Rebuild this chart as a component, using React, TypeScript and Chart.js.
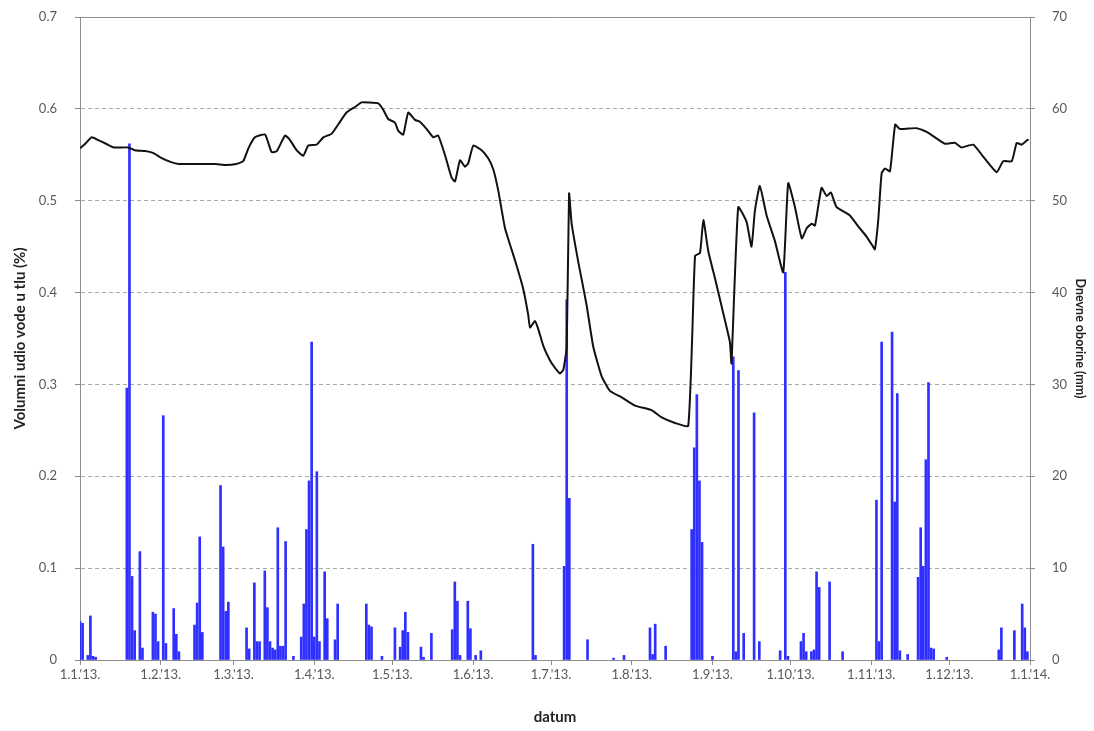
import React, { useEffect, useRef } from 'react';
import { Chart, registerables } from 'chart.js';

Chart.register(...registerables);

// x axis: day of year (0 = 1.1.2013)
const monthStartDays = [0, 31, 59, 90, 120, 151, 181, 212, 243, 273, 304, 334, 365];
const monthLabels = [
  "1.1.'13.", "1.2.'13.", "1.3.'13.", "1.4.'13.", "1.5.'13.", "1.6.'13.",
  "1.7.'13.", "1.8.'13.", "1.9.'13.", "1.10.'13.", "1.11.'13.", "1.12.'13.", "1.1.'14.",
];

// daily precipitation (mm), right axis
const rainDays = [
  0, 1, 3, 4, 5, 6, 18, 19, 20, 21, 23, 24, 28, 29, 30, 32, 33, 36, 37, 38,
  44, 45, 46, 47, 54, 55, 56, 57, 64, 65, 67, 68, 69, 71, 72, 73, 74, 75, 76, 77,
  78, 79, 82, 85, 86, 87, 88, 89, 90, 91, 92, 94, 95, 98, 99, 110, 111, 112, 116, 121,
  123, 124, 125, 126, 131, 132, 135, 143, 144, 145, 146, 149, 150, 152, 154, 174, 175, 186, 187, 188,
  195, 205, 209, 219, 220, 221, 225, 235, 236, 237, 238, 239, 243, 251, 252, 253, 255, 259, 261, 269,
  271, 272, 277, 278, 279, 281, 282, 283, 284, 288, 293, 306, 307, 308, 312, 313, 314, 315, 318, 322,
  323, 324, 325, 326, 327, 328, 333, 353, 354, 359, 362, 363, 364,
];
const rainMm = [
  4.2, 4.0, 0.5, 4.8, 0.4, 0.3, 29.6, 56.2, 9.1, 3.2, 11.8, 1.3, 5.2, 5.0, 2.0, 26.6, 1.8, 5.6, 2.8, 0.9,
  3.8, 6.2, 13.4, 3.0, 19.0, 12.3, 5.3, 6.3, 3.5, 1.2, 8.4, 2.0, 2.0, 9.7, 5.7, 2.0, 1.3, 1.1, 14.4, 1.5,
  1.5, 12.9, 0.4, 2.5, 6.1, 14.2, 19.5, 34.6, 2.5, 20.5, 2.0, 9.6, 4.5, 2.2, 6.1, 6.1, 3.8, 3.6, 0.4, 3.5,
  1.4, 3.2, 5.2, 3.0, 1.4, 0.3, 2.9, 3.3, 8.5, 6.4, 0.5, 6.4, 3.4, 0.5, 1.0, 12.6, 0.5, 10.2, 39.2, 17.6,
  2.2, 0.2, 0.5, 3.5, 0.6, 3.9, 1.5, 14.2, 23.1, 28.9, 19.5, 12.8, 0.4, 33.0, 0.9, 31.5, 2.9, 26.9, 2.0, 1.0,
  42.2, 0.4, 2.0, 2.9, 0.9, 0.9, 1.1, 9.6, 7.9, 8.5, 0.9, 17.4, 2.0, 34.6, 35.7, 17.2, 29.0, 1.0, 0.6, 9.0,
  14.4, 10.2, 21.8, 30.2, 1.3, 1.2, 0.3, 1.1, 3.5, 3.2, 6.1, 3.5, 0.9,
];

// volumetric soil water content, left axis
const moistDays = [
  0, 2, 4.5, 7, 10, 13, 18.5, 21, 25, 28, 31, 35, 38, 45, 52, 56, 60, 62.7, 64.7, 67.2,
  71.1, 73.6, 75.6, 78.8, 80.7, 83.2, 85.8, 87.7, 90.9, 93.5, 96.7, 99.2, 102.4, 105.6, 108.2, 110.8, 114.6, 116.5, 118.4, 121,
  122.3, 124.2, 126.1, 128.7, 130.6, 133.2, 135.7, 137.6, 140.2, 142.8, 144.1, 146, 147.9, 149.2, 151.1, 154.3, 156.9, 158.8, 160.7, 163.3,
  165.8, 167.8, 170.3, 172.2, 172.9, 174.8, 176.1, 178, 180.6, 182.5, 184.4, 185.7, 187, 187.9, 188.9, 191.4, 194.6, 197.2, 200.4, 203.6,
  208.1, 213.2, 219.6, 223.5, 228.6, 233.7, 236.3, 238.2, 239.5, 241.4, 244, 247.1, 249.7, 250.3, 252.9, 256.1, 258, 259.3, 261.2, 263.8,
  267, 270.2, 272.1, 274.7, 277.3, 279.2, 281.1, 282.4, 284.9, 286.9, 288.5, 290.7, 295.8, 299, 302.2, 304.7, 305.4, 306.7, 308, 309.3,
  311.2, 313.2, 315, 321.4, 325.3, 328.5, 332.3, 336.1, 338.7, 343.2, 347, 352.2, 354.7, 358, 359.9, 361.8, 364.4,
];
const moistVals = [
  0.557, 0.562, 0.569, 0.566, 0.562, 0.558, 0.558, 0.555, 0.554, 0.552, 0.547, 0.542, 0.54, 0.54, 0.54, 0.539, 0.54, 0.543, 0.557, 0.569,
  0.572, 0.553, 0.554, 0.571, 0.566, 0.555, 0.549, 0.56, 0.561, 0.569, 0.573, 0.583, 0.596, 0.602, 0.607, 0.607, 0.606, 0.599, 0.589, 0.585,
  0.576, 0.572, 0.596, 0.588, 0.586, 0.578, 0.569, 0.571, 0.55, 0.525, 0.521, 0.544, 0.537, 0.541, 0.56, 0.555, 0.546, 0.534, 0.511, 0.47,
  0.447, 0.429, 0.404, 0.376, 0.362, 0.369, 0.36, 0.342, 0.326, 0.318, 0.312, 0.316, 0.341, 0.508, 0.475, 0.434, 0.387, 0.341, 0.309, 0.293,
  0.286, 0.277, 0.272, 0.264, 0.258, 0.255, 0.44, 0.443, 0.479, 0.445, 0.415, 0.378, 0.346, 0.323, 0.493, 0.477, 0.45, 0.489, 0.516, 0.484,
  0.456, 0.422, 0.519, 0.493, 0.459, 0.47, 0.475, 0.473, 0.514, 0.505, 0.509, 0.493, 0.484, 0.472, 0.461, 0.45, 0.447, 0.479, 0.53, 0.535,
  0.532, 0.583, 0.578, 0.579, 0.575, 0.569, 0.562, 0.563, 0.558, 0.561, 0.548, 0.531, 0.543, 0.543, 0.563, 0.561, 0.567,
];

const leftTitle = 'Volumni udio vode u tlu (%)';
const rightTitle = 'Dnevne oborine (mm)';
const xTitle = 'datum';

const AXIS_COLOR = '#8c8c8c';
const GRID_COLOR = '#a8a8a8';
const TICK_FONT = { family: 'Lato', size: 13 };
const TICK_COLOR = '#595959';

const framePlugin = {
  id: 'frame',
  afterDatasetsDraw(chart: any) {
    const { ctx, chartArea } = chart;
    ctx.save();
    ctx.strokeStyle = AXIS_COLOR;
    ctx.lineWidth = 1;
    ctx.setLineDash([]);
    ctx.beginPath();
    ctx.moveTo(Math.round(chartArea.left) + 0.5, Math.round(chartArea.top) + 0.5);
    ctx.lineTo(Math.round(chartArea.right) + 0.5, Math.round(chartArea.top) + 0.5);
    ctx.stroke();
    ctx.restore();
  },
};

export default function App() {
  const canvasRef = useRef<HTMLCanvasElement | null>(null);

  useEffect(() => {
    if (!canvasRef.current) return;
    const chart = new Chart(canvasRef.current, {
      type: 'bar',
      data: {
        datasets: [
          {
            type: 'line',
            label: leftTitle,
            data: moistDays.map((d, i) => ({ x: d, y: moistVals[i] })),
            borderColor: '#111111',
            borderWidth: 2,
            pointRadius: 0,
            tension: 0.15,
            yAxisID: 'y',
            xAxisID: 'x',
            order: 0,
          } as any,
          {
            type: 'bar',
            label: rightTitle,
            data: rainDays.map((d, i) => ({ x: d, y: rainMm[i] })),
            backgroundColor: '#2f2fff',
            borderWidth: 0,
            barThickness: 2,
            yAxisID: 'y1',
            xAxisID: 'x',
            order: 1,
          } as any,
        ],
      },
      options: {
        responsive: false,
        animation: false,
        devicePixelRatio: 1,
        layout: { padding: { top: 17, left: 0, right: 0, bottom: 0 } },
        plugins: { legend: { display: false }, tooltip: { enabled: false } },
        scales: {
          x: {
            type: 'linear',
            position: 'bottom',
            min: 0,
            max: 365,
            offset: false,
            afterBuildTicks: (s: any) => {
              s.ticks = monthStartDays.map((v) => ({ value: v }));
            },
            afterFit: (s: any) => {
              s.height = 71;
            },
            ticks: {
              autoSkip: false,
              maxRotation: 0,
              padding: 2,
              font: TICK_FONT,
              color: TICK_COLOR,
              callback: (_v: any, i: number) => monthLabels[i],
            },
            grid: { offset: false, drawOnChartArea: false, drawTicks: true, tickLength: 5, color: AXIS_COLOR },
            border: { display: true, color: AXIS_COLOR },
            title: {
              display: true,
              text: xTitle,
              color: '#222',
              font: { family: 'Lato', size: 15, weight: 'bold' },
              padding: { top: 0, bottom: 5 },
            },
          },
          y: {
            type: 'linear',
            position: 'left',
            min: 0,
            max: 0.7,
            afterFit: (s: any) => {
              s.width = 80;
              s.paddingTop = 7;
              s.paddingBottom = 7;
            },
            ticks: {
              stepSize: 0.1,
              padding: 18,
              font: TICK_FONT,
              color: TICK_COLOR,
              callback: (v: any) => (Number(v) === 0 ? '0' : Number(v).toFixed(1)),
            },
            grid: {
              color: (c: any) =>
                c.tick && (c.tick.value === 0 || c.tick.value > 0.69) ? 'rgba(0,0,0,0)' : GRID_COLOR,
              tickColor: AXIS_COLOR,
              tickLength: 5,
              lineWidth: 1,
            },
            border: { display: true, color: AXIS_COLOR, dash: [4, 3] },
            title: {
              display: true,
              text: leftTitle,
              color: '#222',
              font: { family: 'Lato', size: 15, weight: 'bold' },
              padding: { top: 11, bottom: 0 },
            },
          },
          y1: {
            type: 'linear',
            position: 'right',
            min: 0,
            max: 70,
            afterFit: (s: any) => {
              s.width = 64;
              s.paddingTop = 7;
              s.paddingBottom = 7;
            },
            ticks: {
              stepSize: 10,
              padding: 17,
              font: TICK_FONT,
              color: TICK_COLOR,
            },
            grid: { drawOnChartArea: false, tickColor: AXIS_COLOR, tickLength: 5, color: AXIS_COLOR },
            border: { display: true, color: AXIS_COLOR },
            title: {
              display: true,
              text: rightTitle,
              color: '#222',
              font: { family: 'Lato', size: 12.5, weight: 'bold' },
              padding: { top: 6, bottom: 0 },
            },
          },
        },
      } as any,
      plugins: [framePlugin],
    });
    return () => chart.destroy();
  }, []);

  return (
    <div style={{ position: 'absolute', left: 0, top: 0, width: 1094, height: 731, background: '#fff' }}>
      <canvas ref={canvasRef} width={1094} height={731} style={{ display: 'block' }} />
    </div>
  );
}
